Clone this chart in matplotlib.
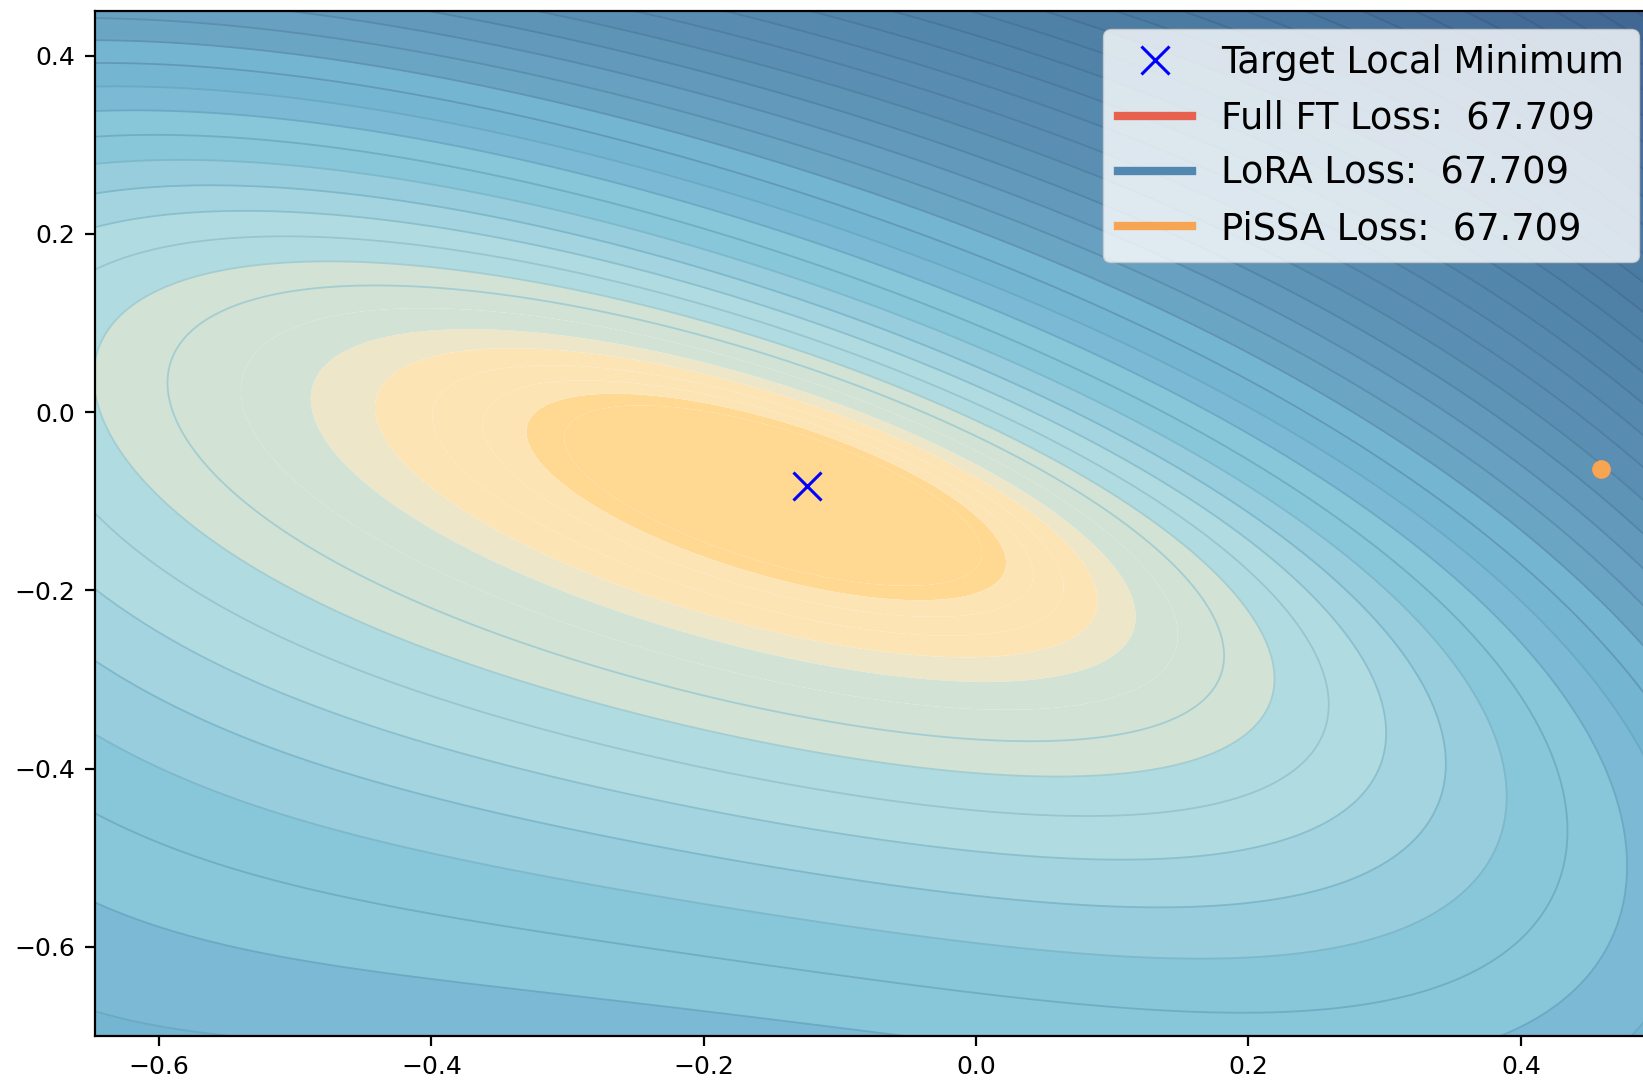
import numpy as np
import matplotlib
matplotlib.use("Agg")
import matplotlib.pyplot as plt
from matplotlib.colors import to_rgb

# values
target_min = (-0.124, -0.083)
pissa_point = (0.459, -0.064)
x_range = (-0.647, 0.50)
y_range = (-0.70, 0.45)

# contour shape around the minimum (ellipse that scales out from target_min)
shape_center = [-0.045, -0.03]
shape_cov = [[0.180, -0.078], [-0.078, 0.080]]
level_ratio = 1.145        # radius ratio between neighbouring levels

# contour points: (x, y, level index), 0 = edge of the pale zone
probes = [
    (-0.223, 0.022, -7), (-0.316, -0.019, -7), (0.012, -0.143, -7), (-0.070, -0.177, -7),
    (-0.442, 0.000, -4), (-0.365, 0.087, -4), (0.106, -0.195, -4), (-0.055, -0.260, -4),
    (-0.485, 0.017, -3), (-0.402, 0.104, -3), (0.137, -0.221, -3), (-0.055, -0.288, -3),
    (-0.588, 0.048, -1), (-0.463, 0.148, -1), (0.204, -0.258, -1), (-0.055, -0.352, -1),
    (-0.644, 0.062, 0), (-0.524, 0.169, 0), (0.237, -0.285, 0), (0.050, -0.397, 0),
    (-0.055, -0.385, 0), (-0.350, 0.165, 0), (-0.178, 0.110, 0), (0.053, -0.040, 0),
    (0.165, -0.378, 0),
    (-0.055, -0.426, 1), (-0.055, -0.475, 2), (-0.055, -0.527, 3), (-0.055, -0.588, 4),
    (0.270, -0.266, 1), (0.273, -0.322, 1), (0.165, -0.431, 1),
    (0.302, -0.266, 2), (0.312, -0.359, 2), (0.165, -0.482, 2),
    (0.324, -0.266, 3), (0.351, -0.378, 3), (0.165, -0.535, 3),
    (0.354, -0.266, 4), (0.395, -0.434, 4), (0.165, -0.594, 4),
    (0.378, -0.266, 5), (0.442, -0.453, 5), (0.165, -0.661, 5),
    (0.400, -0.266, 6), (0.486, -0.490, 6), (0.361, -0.695, 6),
    (-0.644, -0.098, 1), (-0.644, -0.180, 2), (-0.644, -0.255, 3), (-0.644, -0.351, 4),
    (-0.644, -0.461, 5), (-0.644, -0.580, 6), (-0.644, -0.700, 7),
    (-0.644, 0.184, 1), (-0.644, 0.249, 3), (-0.644, 0.325, 6), (-0.644, 0.381, 8),
    (-0.644, 0.443, 10),
    (-0.350, -0.700, 6.5), (0.060, -0.700, 5.5), (0.486, -0.700, 7),
    (0.486, -0.290, 8.5), (0.486, -0.064, 15), (0.486, 0.050, 18), (0.486, 0.160, 21),
    (0.486, 0.447, 29),
    (-0.350, 0.447, 12), (0.000, 0.447, 20), (0.092, 0.160, 9),
]

loss_labels = ["Full FT Loss:  67.709", "LoRA Loss:  67.709", "PiSSA Loss:  67.709"]
loss_colors = ["#E8614F", "#5287B0", "#F7A553"]

# fill colours, centre outwards: band up to level index -> colour
band_steps = [-7, -4, -3, 0, 2, 3, 4, 6, 7, 9]
band_colors = ["#FFD891", "#FCE4B5", "#EEE6C8", "#D2E2D5", "#B0DCE1",
               "#A4D4DF", "#97CDDC", "#88C6DA", "#7BB9D4", "#74B6D2"]
outer_steps = [10, 14, 19, 27, 35]
outer_colors = ["#6BA5C4", "#5A8FB3", "#4F80A6", "#436B96", "#3D628E"]
top_level = 36


def base_log(x, y):
    dx = np.asarray(x) - target_min[0]
    dy = np.asarray(y) - target_min[1]
    P = np.linalg.inv(np.array(shape_cov))
    c = np.array(shape_center)
    Pc = P @ c
    kappa = 1 - c @ Pc
    b = Pc[0] * dx + Pc[1] * dy
    q = P[0, 0] * dx**2 + 2 * P[0, 1] * dx * dy + P[1, 1] * dy**2
    s = (-b + np.sqrt(b**2 + kappa * q)) / kappa
    return 2 * np.log(np.maximum(s, 1e-6))


def poly_terms(x, y, deg=4):
    dx = np.asarray(x) - target_min[0]
    dy = np.asarray(y) - target_min[1]
    cols = [dx**i * dy**(n - i) for n in range(deg + 1) for i in range(n + 1)]
    return np.stack(cols, axis=-1)


step = 2 * np.log(level_ratio)
px = np.array([p[0] for p in probes])
py = np.array([p[1] for p in probes])
pk = np.array([p[2] for p in probes])
A = poly_terms(px, py)
resid = pk - base_log(px, py) / step
ridge = 0.015
coef = np.linalg.solve(A.T @ A + ridge * np.eye(A.shape[1]), A.T @ resid)

xs = np.linspace(x_range[0], x_range[1], 800)
ys = np.linspace(y_range[0], y_range[1], 700)
X, Y = np.meshgrid(xs, ys)
Z = base_log(X, Y) / step + poly_terms(X, Y) @ coef   # in level units

ks = np.arange(-8, top_level + 1)
levels = np.concatenate([[-1000], ks, [1000]])
outer_k = list(ks) + [top_level + 1]


def band_color(k):
    for kk, col in zip(band_steps, band_colors):
        if k <= kk:
            return to_rgb(col)
    rgb = np.array([to_rgb(cc) for cc in outer_colors])
    return tuple(np.interp(k, outer_steps, rgb[:, i]) for i in range(3))


fills = [band_color(k) for k in outer_k]
line_k = [k for k in ks if k >= -1]
line_cols = [tuple(np.array(band_color(k + 2)) * 0.93) for k in line_k]

fig = plt.figure(figsize=(16.43, 10.80), dpi=100)
ax = fig.add_axes([95 / 1643, 1 - 1036 / 1080, (1657 - 95) / 1643, (1036 - 11) / 1080])

ax.contourf(X, Y, Z, levels=levels, colors=fills, antialiased=True)
ax.contour(X, Y, Z, levels=line_k, colors=line_cols, linewidths=1.3)

ax.plot(target_min[0], target_min[1], "x", color="blue", ms=20, mew=2.2,
        label="Target Local Minimum", linestyle="none")
for lab, col in zip(loss_labels, loss_colors):
    ax.plot([pissa_point[0]], [pissa_point[1]], color=col, lw=6, label=lab)
for col in loss_colors:
    ax.plot(pissa_point[0], pissa_point[1], "o", color=col, ms=13.5, mew=0)

ax.set_xlim(x_range)
ax.set_ylim(y_range)
ax.set_xticks([-0.6, -0.4, -0.2, 0.0, 0.2, 0.4])
ax.set_yticks([-0.6, -0.4, -0.2, 0.0, 0.2, 0.4])
ax.tick_params(labelsize=18, length=7, width=1.6, pad=7)
for sp in ax.spines.values():
    sp.set_linewidth(1.6)

ax.legend(loc="upper right", fontsize=26.5)

fig.savefig("out.png", dpi=100)
